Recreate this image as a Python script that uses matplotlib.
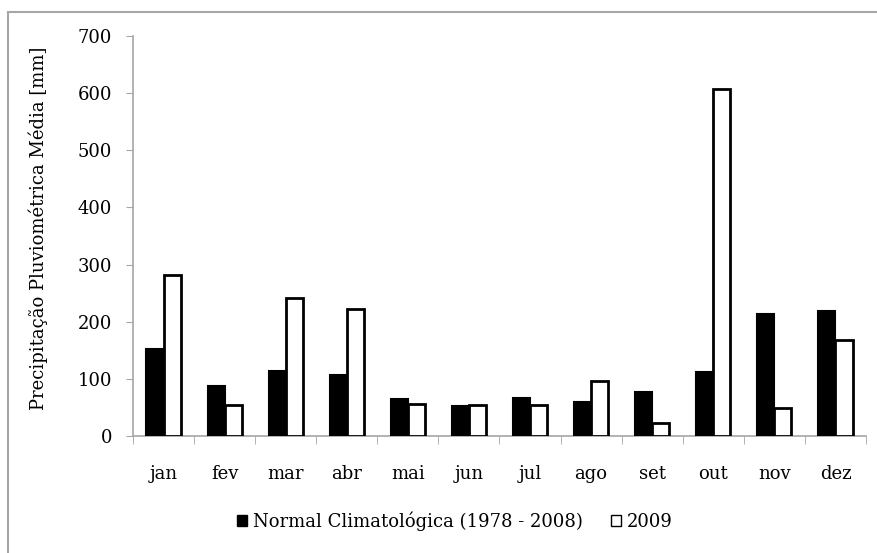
import numpy as np
import matplotlib
matplotlib.use('Agg')
import matplotlib.pyplot as plt
from matplotlib.patches import Rectangle, Patch

# valores (mm)
meses = ['jan', 'fev', 'mar', 'abr', 'mai', 'jun', 'jul', 'ago', 'set', 'out', 'nov', 'dez']
normal = [153, 88, 113, 107, 64, 52, 67, 60, 77, 112, 213, 218]
ano2009 = [281, 54, 241, 223, 56, 54, 54, 96, 22, 607, 49, 168]

plt.rcParams['font.family'] = ['DejaVu Serif']
plt.rcParams['font.size'] = 13

fig = plt.figure(figsize=(8.78, 5.53), dpi=100)

# moldura cinza do grafico
fig.patches.append(Rectangle((8 / 878, -0.05), 1.0, 1 - 12 / 553 + 0.05,
                             transform=fig.transFigure, fill=False,
                             edgecolor='#a6a6a6', linewidth=1.5))

ax = fig.add_axes([133 / 878, 1 - 436 / 553, (866 - 133) / 878, 400 / 553])

x = np.arange(len(meses))
w = 0.28
ax.bar(x - w / 2, normal, w, color='black', edgecolor='black', linewidth=1.5,
       label='Normal Climatológica (1978 - 2008)', zorder=3)
ax.bar(x + w / 2, ano2009, w, color='white', edgecolor='black', linewidth=2,
       label='2009', zorder=3)

ax.set_xlim(-0.5, len(meses) - 0.5)
ax.set_ylim(0, 700)
ax.set_yticks(range(0, 701, 100))

ax.set_xticks(x)
ax.set_xticklabels(meses)
ax.set_xticks(np.arange(-0.5, len(meses), 1), minor=True)
ax.tick_params(axis='x', which='major', length=0, pad=21)
ax.tick_params(axis='x', which='minor', length=6, color='#a6a6a6', direction='out')
ax.tick_params(axis='y', length=5, color='#a6a6a6', direction='out', pad=10)

for s in ['top', 'right']:
    ax.spines[s].set_visible(False)
for s in ['left', 'bottom']:
    ax.spines[s].set_color('#a6a6a6')
    ax.spines[s].set_linewidth(1.2)

fig.text(38 / 878, 1 - 228 / 553, 'Precipitação Pluviométrica Média [mm]',
         rotation=90, ha='center', va='center', fontsize=13)

handles = [Patch(facecolor='black', edgecolor='black'),
           Patch(facecolor='white', edgecolor='black', linewidth=1)]
fig.legend(handles, ['Normal Climatológica (1978 - 2008)', '2009'],
           loc='center', bbox_to_anchor=(455 / 878, 1 - 521 / 553), ncol=2,
           frameon=False, handlelength=0.55, handleheight=0.55,
           handletextpad=0.3, columnspacing=1.6, fontsize=13)

fig.savefig('out.png', dpi=100)
